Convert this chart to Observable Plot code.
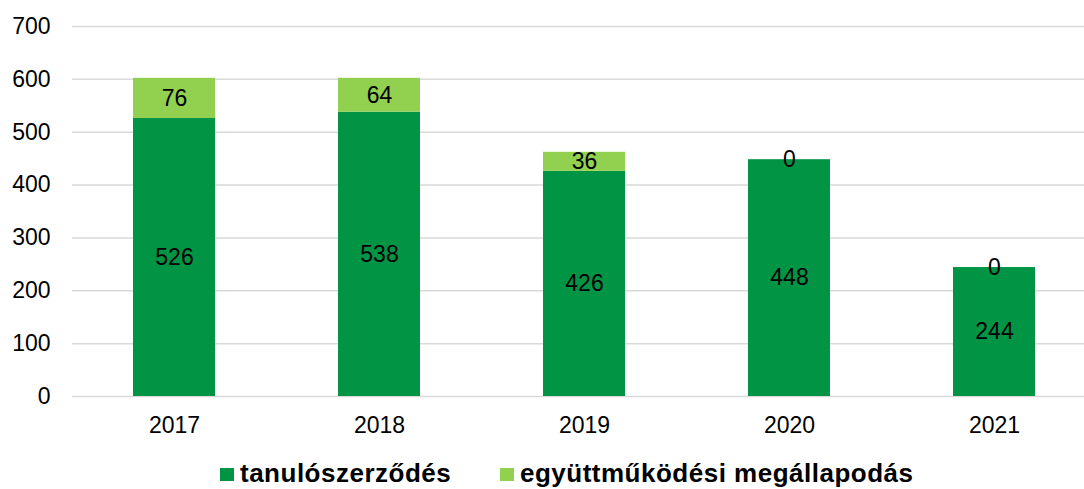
<!DOCTYPE html>
<html>
<head>
<meta charset="utf-8">
<script src="https://cdn.jsdelivr.net/npm/d3@7"></script>
<script src="https://cdn.jsdelivr.net/npm/@observablehq/plot@0.6"></script>
<style>
  html, body { margin: 0; padding: 0; background: #fff; }
  #wrap { position: relative; width: 1084px; height: 489px; overflow: hidden; font-family: "Liberation Sans", Arial, sans-serif; }
  .leg { position: absolute; top: 458px; font-weight: bold; font-size: 26px; letter-spacing: 0.5px; color: #000; white-space: nowrap; line-height: 30px; }
  .sw { display: inline-block; width: 14px; height: 13px; margin-right: 6px; vertical-align: 1px; }
</style>
</head>
<body>
<div id="wrap"></div>
<script>
const years = ["2017", "2018", "2019", "2020", "2021"];
const tanuloszerzodes = [526, 538, 426, 448, 244];
const egyuttmukodesi = [76, 64, 36, 0, 0];
const seriesNames = ["tanulószerződés", "együttműködési megállapodás"];
const seriesColors = ["#009444", "#92d050"];
const yTicks = [0, 100, 200, 300, 400, 500, 600, 700];

const data = [];
years.forEach((y, i) => {
  data.push({year: y, series: seriesNames[0], value: tanuloszerzodes[i]});
  data.push({year: y, series: seriesNames[1], value: egyuttmukodesi[i]});
});

const chart = Plot.plot({
  width: 1084,
  height: 450,
  marginTop: 26,
  marginBottom: 54,
  marginLeft: 72,
  marginRight: 0,
  style: {fontFamily: "'Liberation Sans', Arial, sans-serif", fontSize: "23px", color: "#000", background: "#fff"},
  x: {domain: years, range: [71.5, 1096.5], paddingInner: 0.6, paddingOuter: 0.3, label: null},
  y: {domain: [0, 700], label: null},
  color: {domain: seriesNames, range: seriesColors},
  marks: [
    Plot.ruleY(yTicks, {stroke: "#d9d9d9", strokeWidth: 1.5}),
    Plot.barY(data, Plot.stackY({x: "year", y: "value", fill: "series", order: null})),
    Plot.text(data, Plot.stackY({x: "year", y: "value", text: d => String(d.value), order: null, fill: "#000", fontSize: 23})),
    Plot.axisY(yTicks, {tickSize: 0, tickPadding: 22, fontSize: 23, label: null}),
    Plot.axisX({tickSize: 0, tickPadding: 20, fontSize: 23, label: null})
  ]
});

const wrap = document.getElementById("wrap");
wrap.appendChild(chart);

const legendPos = [220, 500];
seriesNames.forEach((name, i) => {
  const div = document.createElement("div");
  div.className = "leg";
  div.style.left = legendPos[i] + "px";
  const sw = document.createElement("span");
  sw.className = "sw";
  sw.style.background = seriesColors[i];
  div.appendChild(sw);
  div.appendChild(document.createTextNode(name));
  wrap.appendChild(div);
});
</script>
</body>
</html>
